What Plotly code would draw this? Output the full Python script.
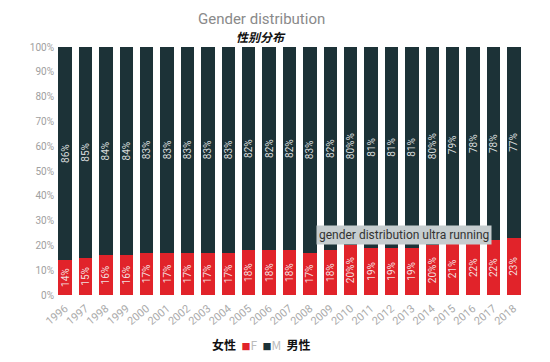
import plotly.graph_objects as go

years = [str(y) for y in range(1996, 2019)]
female = [14, 15, 16, 16, 17, 17, 17, 17, 17, 18, 18, 18, 17, 18, 20, 19, 19, 19, 20, 21, 22, 22, 23]
male = [86, 85, 84, 84, 83, 83, 83, 83, 83, 82, 82, 82, 83, 82, 80, 81, 81, 81, 80, 79, 78, 78, 77]
y_ticks = list(range(0, 101, 10))
y_tick_labels = ["%d%%" % v for v in y_ticks]

RED = "#e1232a"
DARK = "#1c3237"
GRAY = "#a0a0a0"

fig = go.Figure()
fig.add_trace(go.Bar(
    x=years, y=female, name="F", marker=dict(color=RED, line=dict(width=0)),
    texttemplate="%{y}%", textposition="inside", insidetextanchor="middle",
    textangle=-90, insidetextfont=dict(color="#f3dede", size=10, family="Roboto"),
))
fig.add_trace(go.Bar(
    x=years, y=male, name="M", marker=dict(color=DARK, line=dict(width=0)),
    texttemplate="%{y}%", textposition="inside", insidetextanchor="middle",
    textangle=-90, insidetextfont=dict(color="#d8dcdc", size=10, family="Roboto"),
))

fig.update_layout(
    width=550, height=362,
    barmode="stack", bargap=0.34,
    plot_bgcolor="white", paper_bgcolor="white",
    margin=dict(l=47, r=34, t=39, b=75),
    showlegend=False,
    uniformtext=dict(minsize=10, mode="show"),
    font=dict(family="Roboto", color=GRAY),
    xaxis=dict(tickangle=-40, tickfont=dict(size=11, color="#aaaaaa"), showgrid=False,
               showline=False, ticks="", zeroline=False, automargin=False,
               ticklabelstandoff=4),
    yaxis=dict(range=[0, 100], tickvals=y_ticks, ticktext=y_tick_labels, showgrid=False,
               zeroline=False, showline=False, ticks="", automargin=False,
               tickfont=dict(size=10, color=GRAY)),
)

fig.add_annotation(text="Gender distribution", xref="paper", yref="paper",
                   x=0.44, y=1.0, yshift=17, xanchor="center", yanchor="bottom", showarrow=False,
                   font=dict(size=15, color="#8a8a8a", family="Roboto"))
fig.add_annotation(text="<b><i>性别分布</i></b>", xref="paper", yref="paper",
                   x=0.44, y=1.0, yshift=0, xanchor="center", yanchor="bottom", showarrow=False,
                   font=dict(size=12, color="#111", family="Noto Sans CJK SC"))
fig.add_annotation(text="gender distribution ultra running", xref="paper", yref="paper",
                   x=0.744, y=0.24, xanchor="center", yanchor="middle", showarrow=False,
                   bgcolor="#c6cdcf", borderpad=2,
                   font=dict(size=12, color="#333", family="Roboto"))
fig.add_annotation(
    text=("<b>女性</b>  <span style='color:%s;font-size:9px'>■</span><span style='color:#bbb'>F</span>  "
          "<span style='color:%s;font-size:9px'>■</span><span style='color:#bbb'>M</span>  <b>男性</b>") % (RED, DARK),
    xref="paper", yref="paper", x=0.44, y=0, yshift=-60, xanchor="center", showarrow=False,
    font=dict(size=12, color="#111", family="Noto Sans CJK SC"))

fig.write_html("out.html")
